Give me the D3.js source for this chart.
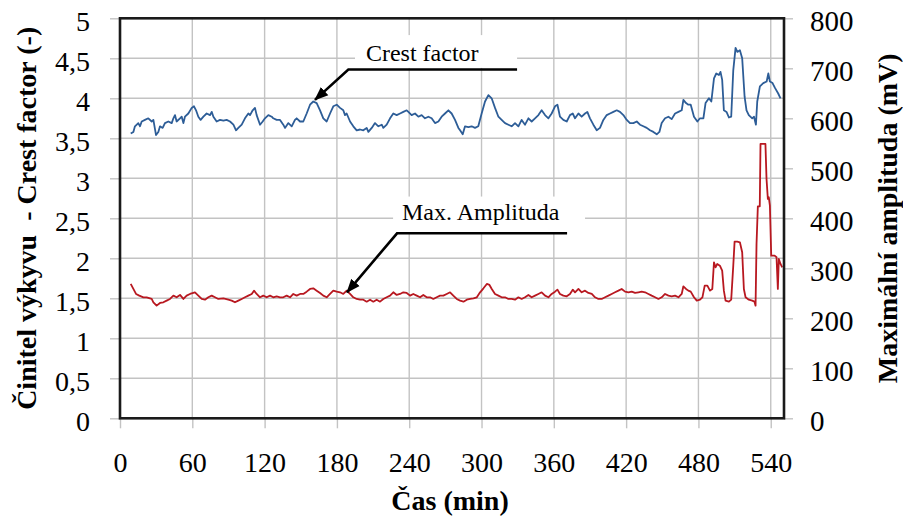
<!DOCTYPE html>
<html>
<head>
<meta charset="utf-8">
<script src="https://cdn.jsdelivr.net/npm/d3@7/dist/d3.min.js"></script>
<style>
  html, body { margin: 0; padding: 0; background: #fff; }
  svg { display: block; }
  text { font-family: "Liberation Serif", "Times New Roman", serif; fill: #000; }
</style>
</head>
<body>
<svg id="chart" width="903" height="519"></svg>
<script>
// ---------------- DATA ----------------
const xTickValues = [0, 60, 120, 180, 240, 300, 360, 420, 480, 540];
const xTickLabels = ["0", "60", "120", "180", "240", "300", "360", "420", "480", "540"];
const leftTickValues = [0, 0.5, 1, 1.5, 2, 2.5, 3, 3.5, 4, 4.5, 5];
const leftTickLabels = ["0", "0,5", "1", "1,5", "2", "2,5", "3", "3,5", "4", "4,5", "5"];
const rightTickValues = [0, 100, 200, 300, 400, 500, 600, 700, 800];
const rightTickLabels = ["0", "100", "200", "300", "400", "500", "600", "700", "800"];

const xTitle = "Čas (min)";
const leftTitle = "Činitel výkyvu  - Crest factor (-)";
const rightTitle = "Maximální amplituda (mV)";
const seriesNames = ["Crest factor", "Max. Amplituda"];

// Crest factor [time min, value]
const crestFactor = [
[8.9,3.56],[11.1,3.58],[12.4,3.65],[15.2,3.69],[16.6,3.65],[18.0,3.71],[20.7,3.73],[23.5,3.75],[26.3,3.71],[27.7,3.73],[29.9,3.54],[31.8,3.58],[33.2,3.65],[35.4,3.63],[37.3,3.69],[40.1,3.71],[42.9,3.69],[44.3,3.75],[45.6,3.79],[47.0,3.71],[49.8,3.75],[51.2,3.77],[52.6,3.69],[53.9,3.77],[56.7,3.81],[59.5,3.88],[61.4,3.90],[63.1,3.85],[65.0,3.77],[66.9,3.73],[69.2,3.77],[71.9,3.81],[74.7,3.79],[76.1,3.83],[77.5,3.77],[80.2,3.71],[83.0,3.73],[85.8,3.72],[88.5,3.73],[91.3,3.71],[94.1,3.67],[96.3,3.60],[98.2,3.63],[101.0,3.67],[103.7,3.75],[106.5,3.81],[107.9,3.79],[110.1,3.85],[112.0,3.88],[113.4,3.79],[116.2,3.67],[118.4,3.71],[120.3,3.75],[123.1,3.79],[125.9,3.77],[127.2,3.75],[130.0,3.73],[132.8,3.73],[135.5,3.67],[136.9,3.63],[139.7,3.69],[142.5,3.65],[145.2,3.73],[146.6,3.75],[149.4,3.71],[152.1,3.71],[154.9,3.81],[157.7,3.92],[160.4,3.96],[163.2,3.94],[166.0,3.85],[168.7,3.75],[171.5,3.71],[174.3,3.81],[177.0,3.90],[179.8,3.92],[182.6,3.88],[185.3,3.85],[186.7,3.79],[188.1,3.81],[190.9,3.71],[193.6,3.65],[196.4,3.60],[199.2,3.61],[201.9,3.60],[204.7,3.63],[206.1,3.58],[208.9,3.63],[211.6,3.69],[214.4,3.65],[217.2,3.67],[218.5,3.63],[221.3,3.67],[224.1,3.75],[226.8,3.81],[229.6,3.79],[232.4,3.81],[235.1,3.83],[237.9,3.85],[239.3,3.83],[242.0,3.79],[244.8,3.81],[247.6,3.77],[250.3,3.79],[253.1,3.75],[255.9,3.77],[258.6,3.75],[261.4,3.69],[264.2,3.71],[266.9,3.77],[269.7,3.81],[272.5,3.85],[275.2,3.81],[278.0,3.73],[280.8,3.63],[282.2,3.60],
[284.4,3.55],[286.3,3.65],[289.1,3.64],[291.8,3.65],[294.6,3.63],[297.3,3.65],[300.1,3.81],[302.9,3.96],[305.7,4.04],[308.4,4.00],[311.2,3.88],[314.0,3.77],[316.7,3.73],[319.5,3.69],[322.3,3.67],[325.0,3.65],[327.8,3.69],[330.6,3.65],[333.3,3.73],[336.1,3.67],[338.9,3.75],[341.6,3.71],[344.4,3.75],[347.2,3.79],[349.9,3.85],[352.7,3.79],[355.5,3.75],[358.2,3.81],[361.0,3.90],[363.0,3.92],[365.1,3.77],[367.9,3.73],[370.7,3.71],[373.4,3.79],[375.7,3.81],[377.6,3.75],[380.4,3.81],[383.1,3.77],[385.9,3.81],[387.8,3.83],[390.0,3.75],[392.8,3.67],[395.6,3.60],[398.3,3.63],[401.1,3.73],[403.9,3.79],[406.6,3.81],[409.4,3.83],[412.2,3.85],[414.9,3.83],[417.7,3.79],[420.5,3.73],[423.2,3.69],[426.0,3.69],[428.8,3.71],[431.5,3.67],[434.3,3.65],[437.1,3.63],[439.8,3.60],[442.6,3.58],[445.4,3.55],[447.6,3.58],[449.5,3.69],[452.3,3.75],[455.1,3.77],[457.8,3.74],[460.6,3.81],[463.4,3.83],[466.1,3.85],[467.5,3.98],[469.7,3.94],[471.6,3.92],[473.6,3.92],[476.3,3.77],[479.1,3.71],[481.3,3.75],[484.1,3.75],[485.9,3.94],[488.7,4.00],[490.7,3.96],[492.9,4.25],[494.8,4.31],[497.0,4.29],[498.3,4.33],[499.7,4.23],[501.1,3.85],[503.3,3.83],[505.3,3.76],[507.2,3.77],[508.9,4.35],[510.8,4.63],[512.3,4.58],[514.4,4.60],[516.3,4.50],[518.3,4.02],[519.9,3.85],[521.8,3.79],[524.6,3.75],[526.1,3.77],[527.7,3.67],[528.8,3.96],[531.0,4.15],[533.8,4.19],[536.6,4.21],[538.0,4.31],[539.3,4.21],[541.5,4.19],[543.5,4.13],[546.2,4.06],[548.1,4.00]
];

// Max. amplitude [time min, mV]
const maxAmplitude = [
[8.9,268.7],[11.1,258.7],[13.3,248.7],[16.0,245.3],[19.4,242],[22.1,242],[26.3,238.7],[27.7,232],[30.4,225.3],[33.2,230.7],[36.0,232],[38.7,235.3],[41.5,238.7],[44.3,245.3],[47.0,242],[49.8,246.7],[52.6,238.7],[55.3,245.3],[58.1,248.7],[62.2,252],[65.0,245.3],[67.8,238.7],[70.5,237.3],[73.3,242],[76.1,245.3],[78.8,242],[81.6,238.7],[85.8,240],[89.9,237.3],[92.7,235.3],[95.4,232],[98.2,235.3],[101.0,238.7],[103.7,242],[106.5,245.3],[109.3,248.7],[111.2,255.3],[113.4,248.7],[116.2,242],[118.9,245.3],[121.7,242],[124.5,245.3],[127.2,242],[130.0,244],[132.8,242],[135.5,242],[138.3,245.3],[141.1,242],[143.8,248.7],[146.6,245.3],[149.4,248.7],[152.1,248.7],[154.9,253.3],[157.7,258.7],[160.4,260],[163.2,255.3],[166.0,250.7],[168.7,245.3],[171.5,242],[174.3,248.7],[177.0,255.3],[179.8,253.3],[182.6,252],[185.3,248.7],[188.1,255.3],[190.9,248.7],[193.6,242],[196.4,238.7],[199.2,237.3],[201.9,237.3],[204.7,233.3],[207.5,237.3],[210.2,233.3],[213.0,237.3],[215.8,233.3],[218.5,238.7],[221.3,242],[224.1,245.3],[226.8,252],[229.6,246.7],[232.4,248.7],[235.1,252],[237.9,250.7],[240.7,245.3],[243.4,248.7],[246.2,245.3],[249.0,242],[251.7,246.7],[254.5,242],[257.3,242],[260.0,238.7],[262.8,242],[265.6,245.3],[268.3,245.3],[271.1,248.7],[273.9,252],[276.6,245.3],[279.4,238.7],[282.2,235.3],
[285.0,233.3],[287.8,237.3],[290.5,238.7],[293.3,240],[296.1,242],[298.8,252],[301.6,260],[304.4,268.7],[306.6,266.7],[308.5,258.7],[311.2,248.7],[314.0,245.3],[316.7,242],[319.5,242],[322.3,238.7],[325.0,238.7],[327.8,237.3],[330.6,242],[333.3,238.7],[336.1,242],[338.9,246.7],[341.6,242],[344.4,245.3],[347.2,248.7],[349.9,252],[352.7,245.3],[355.5,242],[358.2,248.7],[361.0,253.3],[363.0,257.3],[365.1,248.7],[367.9,245.3],[370.7,244],[373.4,248.7],[375.7,257.3],[377.6,252],[380.4,258.7],[383.1,252],[385.9,255.3],[388.7,250.7],[391.5,248.7],[394.2,242],[397.0,238.7],[399.7,238.7],[402.5,242],[405.3,245.3],[408.0,248.7],[410.8,252],[413.6,255.3],[416.3,258.7],[419.1,253.3],[421.9,252],[424.6,253.3],[427.4,250.7],[430.2,252],[432.9,253.3],[435.7,252],[438.5,248.7],[441.2,245.3],[444.0,242],[446.8,238.7],[449.5,242],[452.3,248.7],[455.1,245.3],[457.8,244],[460.6,245.3],[463.4,242],[466.1,248.7],[467.5,264],[469.7,258.7],[471.6,255.3],[473.6,253.3],[476.3,242],[478.6,235.3],[481.3,237.3],[483.3,242],[485.2,265.3],[487.4,265.3],[489.6,255.3],[491.5,258.7],[492.9,312],[494.2,302],[495.6,308.7],[497.8,305.3],[499.7,295.3],[501.1,255.3],[502.5,235.3],[505.3,233.3],[507.2,237.3],[508.9,305.3],[510.0,353.3],[512.2,353.3],[514.4,352],[516.3,332],[517.7,258.7],[519.1,242],[521.8,237.3],[524.6,235.3],[526.5,233.3],[527.4,225.3],[528.2,348.7],[529.3,424],[530.9,424],[531.5,548.7],[535.6,548.7],[536.5,478.7],[537.6,438.7],[538.4,442],[539.3,425.3],[540.4,325.3],[543.2,325.3],[544.8,322],[545.9,258.7],[546.7,318.7],[548.1,308.7],[549.5,302]
];

// ---------------- LAYOUT ----------------
const svg = d3.select("#chart");
const plot = { left: 120, right: 784, top: 18.3, bottom: 418.3 };
const x = d3.scaleLinear().domain([0, 551]).range([plot.left, plot.right]);
const yL = d3.scaleLinear().domain([0, 5]).range([plot.bottom, plot.top]);
const yR = d3.scaleLinear().domain([0, 800]).range([plot.bottom, plot.top]);

const gridColor = "#c3c3c3";
const crestColor = "#2d5d97";
const ampColor = "#b81820";

// gridlines
const grid = svg.append("g");
grid.selectAll("line.h").data(leftTickValues.filter(v => v > 0 && v < 5)).join("line")
  .attr("x1", plot.left).attr("x2", plot.right)
  .attr("y1", d => yL(d)).attr("y2", d => yL(d))
  .attr("stroke", gridColor).attr("stroke-width", 1.4);
grid.selectAll("line.v").data(xTickValues.filter(v => v > 0)).join("line")
  .attr("y1", plot.top).attr("y2", plot.bottom)
  .attr("x1", d => x(d)).attr("x2", d => x(d))
  .attr("stroke", gridColor).attr("stroke-width", 1.4);

// axes
const tickFont = 28;
const gL = svg.append("g").attr("transform", `translate(${plot.left},0)`)
  .call(d3.axisLeft(yL).tickValues(leftTickValues)
        .tickFormat((d, i) => leftTickLabels[i]).tickSize(10).tickPadding(20));
const gB = svg.append("g").attr("transform", `translate(0,${plot.bottom})`)
  .call(d3.axisBottom(x).tickValues(xTickValues)
        .tickFormat((d, i) => xTickLabels[i]).tickSize(10).tickPadding(34));
const gR = svg.append("g").attr("transform", `translate(${plot.right},0)`)
  .call(d3.axisRight(yR).tickValues(rightTickValues)
        .tickFormat((d, i) => rightTickLabels[i]).tickSize(9).tickPadding(17));
[gL, gB, gR].forEach(g => {
  g.select(".domain").remove();
  g.selectAll(".tick line").attr("stroke", gridColor).attr("stroke-width", 1.4);
  g.selectAll(".tick text")
    .attr("font-family", '"Liberation Serif", "Times New Roman", serif')
    .attr("font-size", tickFont).attr("fill", "#000");
});
gL.selectAll(".tick text").attr("dy", "0.42em");
gR.selectAll(".tick text").attr("dy", "0.42em").attr("font-size", 29);
gB.selectAll(".tick text").attr("dy", "0.71em").attr("y", 33.5);

// annotation boxes (white backgrounds that hide gridlines)
const annotations = [
  { label: seriesNames[0], scale: yL, tip: [161.8, 3.98], corner: [189.5, 4.36], end: 329.5,
    text: [204.1, 4.47], box: [195, 329.5, 4.79, 4.38] },
  { label: seriesNames[1], scale: yR, tip: [188.4, 252], corner: [229.9, 370], end: 371,
    text: [234, 396], box: [226.6, 385.9, 443.5, 371.7] }
];
annotations.forEach(a => {
  svg.append("rect")
    .attr("x", x(a.box[0])).attr("width", x(a.box[1]) - x(a.box[0]))
    .attr("y", a.scale(a.box[2])).attr("height", a.scale(a.box[3]) - a.scale(a.box[2]))
    .attr("fill", "#fff");
});

// series lines
const lineL = d3.line().x(d => x(d[0])).y(d => yL(d[1]));
const lineR = d3.line().x(d => x(d[0])).y(d => yR(d[1]));
svg.append("path").datum(maxAmplitude).attr("d", lineR)
  .attr("fill", "none").attr("stroke", ampColor).attr("stroke-width", 1.8)
  .attr("stroke-linejoin", "round");
svg.append("path").datum(crestFactor).attr("d", lineL)
  .attr("fill", "none").attr("stroke", crestColor).attr("stroke-width", 1.8)
  .attr("stroke-linejoin", "round");

// frame
svg.append("rect")
  .attr("x", plot.left).attr("y", plot.top)
  .attr("width", plot.right - plot.left).attr("height", plot.bottom - plot.top)
  .attr("fill", "none").attr("stroke", "#1a1a1a").attr("stroke-width", 2.6);

// arrow marker
svg.append("defs").append("marker")
  .attr("id", "arrow").attr("markerUnits", "userSpaceOnUse")
  .attr("viewBox", "0 -6 14 12").attr("refX", 13).attr("refY", 0)
  .attr("markerWidth", 14).attr("markerHeight", 12).attr("orient", "auto")
  .append("path").attr("d", "M0,-5.5L14,0L0,5.5Z").attr("fill", "#000");

annotations.forEach(a => {
  svg.append("path")
    .attr("d", d3.line()([
      [x(a.end), a.scale(a.corner[1])],
      [x(a.corner[0]), a.scale(a.corner[1])],
      [x(a.tip[0]), a.scale(a.tip[1])]
    ]))
    .attr("fill", "none").attr("stroke", "#000").attr("stroke-width", 2.6)
    .attr("marker-end", "url(#arrow)");
  svg.append("text")
    .attr("x", x(a.text[0])).attr("y", a.scale(a.text[1]))
    .attr("font-size", 24).text(a.label);
});

// axis titles
svg.append("text")
  .attr("transform", `translate(36,${(plot.top + plot.bottom) / 2}) rotate(-90)`)
  .attr("text-anchor", "middle").attr("font-size", 28).attr("font-weight", "bold")
  .style("white-space", "pre").text(leftTitle);
svg.append("text")
  .attr("transform", `translate(897,${(plot.top + plot.bottom) / 2}) rotate(-90)`)
  .attr("text-anchor", "middle").attr("font-size", 28).attr("font-weight", "bold")
  .text(rightTitle);
svg.append("text")
  .attr("x", (plot.left + plot.right) / 2 - 2).attr("y", 510)
  .attr("text-anchor", "middle").attr("font-size", 28).attr("font-weight", "bold")
  .text(xTitle);
</script>
</body>
</html>
